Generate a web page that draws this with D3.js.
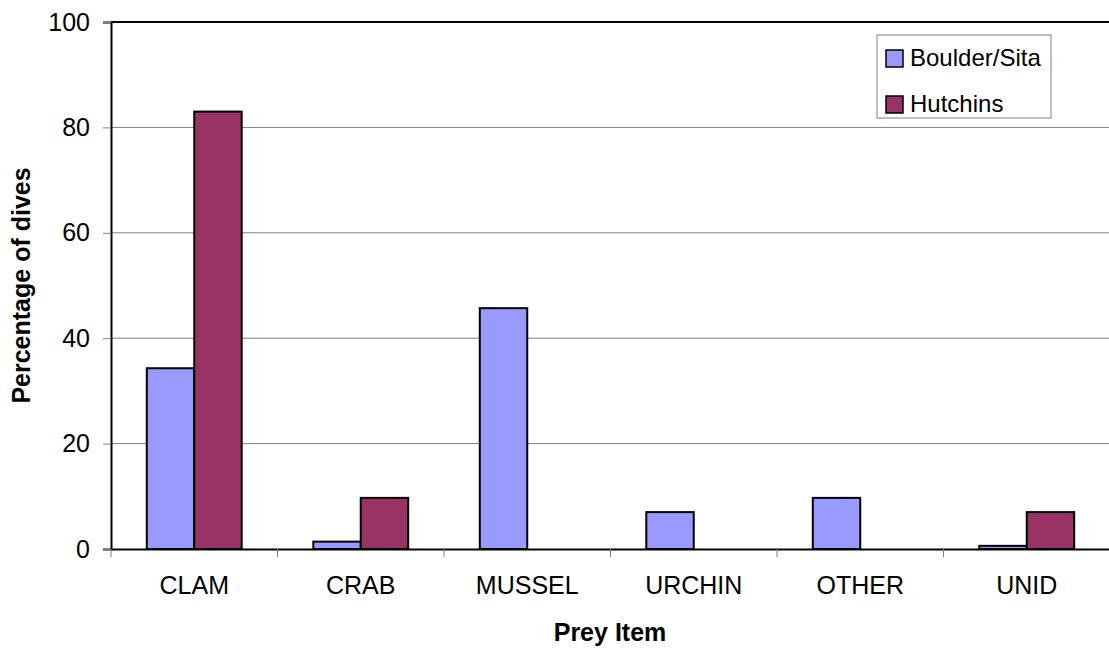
<!DOCTYPE html>
<html>
<head>
<meta charset="utf-8">
<script src="https://cdn.jsdelivr.net/npm/d3@7"></script>
<style>
  body { margin: 0; background: #fff; }
  text { font-family: "Liberation Sans", Arial, sans-serif; }
</style>
</head>
<body>
<div id="chart"></div>
<script>
// prey categories and percentage of dives per site
var categories = ["CLAM", "CRAB", "MUSSEL", "URCHIN", "OTHER", "UNID"];
var seriesNames = ["Boulder/Sita", "Hutchins"];
var boulderSita = [34.3, 1.4, 45.7, 7.0, 9.7, 0.6];
var hutchins = [83.0, 9.7, 0, 0, 0, 7.0];
var yTicks = [0, 20, 40, 60, 80, 100];
var colors = ["#9999FF", "#993366"];

var width = 1109, height = 648;
var margin = { left: 111, right: -1, top: 22, bottom: 99 };
var fontSize = 25;

var svg = d3.select("#chart").append("svg")
    .attr("width", width)
    .attr("height", height);

var x0 = d3.scaleBand()
    .domain(categories)
    .range([margin.left, width - margin.right])
    .paddingInner(0.43)
    .paddingOuter(0.215);

var x1 = d3.scaleBand()
    .domain(seriesNames)
    .range([0, x0.bandwidth()]);

var xCat = d3.scaleBand()
    .domain(categories)
    .range([margin.left, width - margin.right]);

var y = d3.scaleLinear()
    .domain([0, 100])
    .range([height - margin.bottom, margin.top]);

// gridlines
svg.append("g")
    .selectAll("line")
    .data(yTicks.filter(function (d) { return d > 0 && d < 100; }))
    .enter().append("line")
    .attr("x1", margin.left).attr("x2", width)
    .attr("y1", function (d) { return y(d); })
    .attr("y2", function (d) { return y(d); })
    .attr("stroke", "#808080")
    .attr("stroke-width", 1);

// top border
svg.append("line")
    .attr("x1", margin.left).attr("x2", width)
    .attr("y1", y(100)).attr("y2", y(100))
    .attr("stroke", "#000").attr("stroke-width", 2);

// bars
var rows = categories.map(function (c, i) {
    return { cat: c, values: [
        { name: seriesNames[0], v: boulderSita[i], color: colors[0] },
        { name: seriesNames[1], v: hutchins[i], color: colors[1] }
    ] };
});

var groups = svg.append("g").selectAll("g")
    .data(rows)
    .enter().append("g")
    .attr("transform", function (d) { return "translate(" + x0(d.cat) + ",0)"; });

groups.selectAll("rect")
    .data(function (d) { return d.values.filter(function (v) { return v.v > 0; }); })
    .enter().append("rect")
    .attr("x", function (d) { return x1(d.name); })
    .attr("width", x1.bandwidth())
    .attr("y", function (d) { return y(d.v); })
    .attr("height", function (d) { return y(0) - y(d.v); })
    .attr("fill", function (d) { return d.color; })
    .attr("stroke", "#000")
    .attr("stroke-width", 2);

// y axis
var yAxis = svg.append("g")
    .attr("transform", "translate(" + margin.left + ",0)")
    .call(d3.axisLeft(y).tickValues(yTicks).tickSize(8).tickPadding(13));
yAxis.select(".domain").attr("stroke", "#000").attr("stroke-width", 2);
yAxis.selectAll(".tick line").attr("stroke", "#808080");
yAxis.selectAll(".tick text").attr("font-size", fontSize).attr("fill", "#000")
    .style("font-family", "'Liberation Sans', Arial, sans-serif");

// x axis
var xAxis = svg.append("g")
    .attr("transform", "translate(0," + y(0) + ")")
    .call(d3.axisBottom(xCat).tickSize(0).tickPadding(27));
xAxis.select(".domain").attr("stroke", "#000").attr("stroke-width", 2);
xAxis.selectAll(".tick text").attr("font-size", fontSize).attr("fill", "#000")
    .style("font-family", "'Liberation Sans', Arial, sans-serif");

// category separators
svg.append("g").selectAll("line")
    .data(categories)
    .enter().append("line")
    .attr("x1", function (d) { return xCat(d); })
    .attr("x2", function (d) { return xCat(d); })
    .attr("y1", y(0)).attr("y2", y(0) + 8)
    .attr("stroke", "#808080").attr("stroke-width", 1);

// axis titles
svg.append("text")
    .attr("x", (margin.left + width) / 2)
    .attr("y", 641)
    .attr("text-anchor", "middle")
    .attr("font-size", fontSize)
    .attr("font-weight", "bold")
    .text("Prey Item");

svg.append("text")
    .attr("transform", "translate(30," + (y(50)) + ") rotate(-90)")
    .attr("text-anchor", "middle")
    .attr("font-size", fontSize)
    .attr("font-weight", "bold")
    .text("Percentage of dives");

// legend
var legend = svg.append("g").attr("transform", "translate(877,35)");
legend.append("rect")
    .attr("width", 174).attr("height", 83)
    .attr("fill", "#fff").attr("stroke", "#808080").attr("stroke-width", 1);

var items = legend.selectAll("g.item")
    .data(seriesNames)
    .enter().append("g")
    .attr("class", "item")
    .attr("transform", function (d, i) { return "translate(9," + (31 + i * 46) + ")"; });

items.append("rect")
    .attr("x", 0).attr("y", -16)
    .attr("width", 17).attr("height", 17)
    .attr("fill", function (d, i) { return colors[i]; })
    .attr("stroke", "#000").attr("stroke-width", 1.5);

items.append("text")
    .attr("x", 24).attr("y", 0)
    .attr("font-size", 24)
    .text(function (d) { return d; });
</script>
</body>
</html>
